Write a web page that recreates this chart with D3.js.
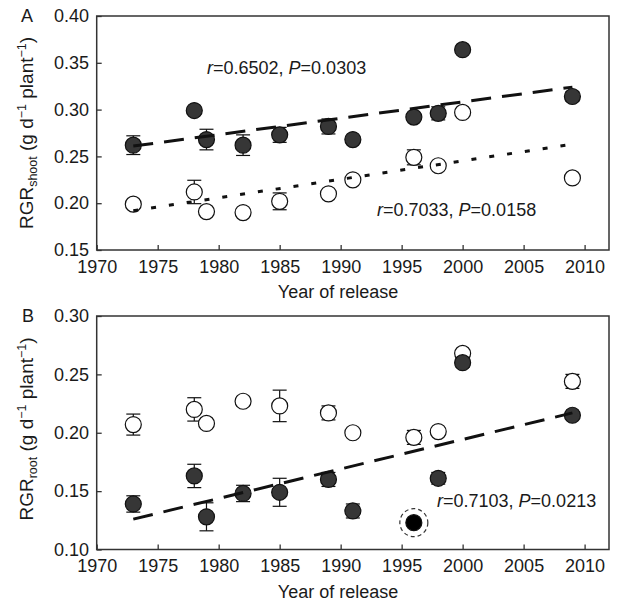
<!DOCTYPE html>
<html lang="en">
<head>
	<meta charset="UTF-8">
	<title>RGR vs year of release</title>
	<script src="https://cdn.jsdelivr.net/npm/d3@7/dist/d3.min.js"></script>
	<style>
		html,body{
			margin:0;
			padding:0;
			background:#fff;
		}
		svg{
			display:block;
			font-family:"Liberation Sans",Arial,sans-serif;
		}
		.tick text{
			font-size:18px;
			fill:#1a1a1a;
		}
		.tick line{
			stroke:#333;
			stroke-width:1.3;
		}
		.frame{
			fill:none;
			stroke:#333;
			stroke-width:1.5;
		}
		.err{
			stroke:#111;
			stroke-width:1.2;
			fill:none;
		}
	</style>
</head>
<body>
	<svg id="svg" width="618" height="605"></svg>
	<script>
		// cultivar release years
		var years = [1973,1978,1979,1982,1985,1989,1991,1996,1998,2000,2009];

		// panel A: shoot RGR
		var shootFilled    = [0.262,0.299,0.268,0.262,0.273,0.282,0.268,0.292,0.296,0.364,0.314];
		var shootFilledErr = [0.010,0,0.011,0.011,0.008,0.008,0,0.004,0.007,0,0.005];
		var shootOpen      = [0.199,0.212,0.191,0.190,0.202,0.210,0.225,0.249,0.240,0.297,0.227];
		var shootOpenErr   = [0,0.0125,0,0,0.009,0,0,0.008,0,0,0];

		// panel B: root RGR
		var rootOpen       = [0.207,0.220,0.208,0.227,0.223,0.217,0.200,0.196,0.201,0.268,0.244];
		var rootOpenErr    = [0.009,0.010,0,0.004,0.0135,0.006,0,0.006,0,0,0.006];
		var rootFilled     = [0.139,0.163,0.128,0.148,0.149,0.160,0.133,0.123,0.161,0.260,0.215];
		var rootFilledErr  = [0.007,0.010,0.012,0.007,0.012,0.006,0.006,0,0.005,0.004,0];
		var rootHighlight  = [1996];

		// regression lines (value at first and last year)
		var fitYears        = [1973,2009];
		var fitShootFilled  = [0.261,0.324];
		var fitShootOpen    = [0.192,0.263];
		var fitRootFilled   = [0.126,0.217];

		// axes
		var xTicks      = [1970,1975,1980,1985,1990,1995,2000,2005,2010];
		var yTicksShoot = [0.15,0.20,0.25,0.30,0.35,0.40];
		var yTicksRoot  = [0.10,0.15,0.20,0.25,0.30];

		var svg = d3.select("#svg");
		var left = 96.7, right = 609;

		var xscale = d3.scaleLinear().domain([1970,2012]).range([left,right]);

		function pts(vals,errs){
			return years.map((y,i)=>{ return {x:y,v:vals[i],e:errs[i]} });
		}

		function panel(cfg){
			var g = svg.append("g");
			var yscale = d3.scaleLinear().domain(cfg.ydom).range([cfg.bottom,cfg.top]);

			g.append("g")
				.attr("transform","translate(0,"+cfg.bottom+")")
				.call(d3.axisBottom(xscale).tickValues(xTicks).tickFormat(d3.format("d"))
					.tickSizeInner(-5).tickSizeOuter(0).tickPadding(10))
				.call(a=>a.select(".domain").remove());

			g.append("g")
				.attr("transform","translate("+left+",0)")
				.call(d3.axisLeft(yscale).tickValues(cfg.yticks).tickFormat(d3.format(".2f"))
					.tickSizeInner(-5).tickSizeOuter(0).tickPadding(7.7))
				.call(a=>a.select(".domain").remove());

			g.selectAll(".tick text").attr("font-family",null);

			g.append("rect").attr("class","frame")
				.attr("x",left).attr("y",cfg.top)
				.attr("width",right-left).attr("height",cfg.bottom-cfg.top);

			// error bars
			cfg.series.forEach(s=>{
				var d = s.data.filter(p=>p.e>0);
				var eb = g.append("g").attr("class","err");
				eb.selectAll(".v").data(d).enter().append("line")
					.attr("x1",p=>xscale(p.x)).attr("x2",p=>xscale(p.x))
					.attr("y1",p=>yscale(p.v+p.e)).attr("y2",p=>yscale(p.v-p.e));
				[1,-1].forEach(k=>{
					eb.selectAll(".c"+k).data(d).enter().append("line")
						.attr("x1",p=>xscale(p.x)-7).attr("x2",p=>xscale(p.x)+7)
						.attr("y1",p=>yscale(p.v+k*p.e)).attr("y2",p=>yscale(p.v+k*p.e));
				});
			});

			// points
			cfg.series.forEach(s=>{
				g.append("g").selectAll("circle").data(s.data).enter().append("circle")
					.attr("cx",p=>xscale(p.x))
					.attr("cy",p=>yscale(p.v))
					.attr("r",8)
					.attr("fill",p=>s.hl && s.hl.indexOf(p.x)>=0 ? "#000" : s.fill)
					.attr("stroke","#111")
					.attr("stroke-width",1.2);
				if(s.hl){
					g.append("g").selectAll("circle").data(s.data.filter(p=>s.hl.indexOf(p.x)>=0))
						.enter().append("circle")
						.attr("cx",p=>xscale(p.x))
						.attr("cy",p=>yscale(p.v))
						.attr("r",14)
						.attr("fill","none")
						.attr("stroke","#333")
						.attr("stroke-width",1.2)
						.attr("stroke-dasharray","4,3");
				}
			});

			// regression lines
			var line = d3.line().x(d=>xscale(d[0])).y(d=>yscale(d[1]));
			cfg.fits.forEach(f=>{
				g.append("path")
					.datum(fitYears.map((y,i)=>[y,f.vals[i]]))
					.attr("d",line)
					.attr("fill","none")
					.attr("stroke","#111")
					.attr("stroke-width",3)
					.attr("stroke-dasharray",f.dash);
			});

			// annotations
			cfg.notes.forEach(n=>{
				var t = g.append("text").attr("x",n.x).attr("y",n.y)
					.attr("font-size",18).attr("fill","#1a1a1a");
				t.append("tspan").attr("font-style","italic").text("r");
				t.append("tspan").text("="+n.r+", ");
				t.append("tspan").attr("font-style","italic").text("P");
				t.append("tspan").text("="+n.p);
			});

			// panel letter
			svg.append("text").attr("x",cfg.letterX).attr("y",cfg.letterY)
				.attr("font-size",18).attr("fill","#1a1a1a").text(cfg.letter);

			// y title
			var yt = svg.append("text")
				.attr("transform","translate(33,"+cfg.ymid+") rotate(-90)")
				.attr("text-anchor","middle")
				.attr("font-size",19).attr("fill","#1a1a1a");
			yt.append("tspan").text("RGR");
			yt.append("tspan").attr("font-size",12.5).attr("dy",4).text(cfg.sub);
			yt.append("tspan").attr("dy",-4).text(" (g d");
			yt.append("tspan").attr("font-size",12.5).attr("dy",-7).text("\u22121");
			yt.append("tspan").attr("dy",7).text(" plant");
			yt.append("tspan").attr("font-size",12.5).attr("dy",-7).text("\u22121");
			yt.append("tspan").attr("dy",7).text(")");

			// x title
			svg.append("text").attr("x",338).attr("y",cfg.bottom+48)
				.attr("text-anchor","middle").attr("font-size",18).attr("fill","#1a1a1a")
				.text("Year of release");
		}

		panel({
			top:16, bottom:250, ydom:[0.15,0.40], yticks:yTicksShoot,
			letter:"A", letterX:21, letterY:22, sub:"shoot", ymid:133,
			series:[
				{data:pts(shootFilled,shootFilledErr), fill:"#363636"},
				{data:pts(shootOpen,shootOpenErr), fill:"#fff"}
			],
			fits:[
				{vals:fitShootFilled, dash:"20,11"},
				{vals:fitShootOpen, dash:"5,13"}
			],
			notes:[
				{x:207, y:74, r:"0.6502", p:"0.0303"},
				{x:377, y:216, r:"0.7033", p:"0.0158"}
			]
		});

		panel({
			top:316, bottom:549.5, ydom:[0.10,0.30], yticks:yTicksRoot,
			letter:"B", letterX:22, letterY:322, sub:"root", ymid:429,
			series:[
				{data:pts(rootOpen,rootOpenErr), fill:"#fff"},
				{data:pts(rootFilled,rootFilledErr), fill:"#363636", hl:rootHighlight}
			],
			fits:[
				{vals:fitRootFilled, dash:"20,11"}
			],
			notes:[
				{x:437, y:507, r:"0.7103", p:"0.0213"}
			]
		});
	</script>
</body>
</html>
